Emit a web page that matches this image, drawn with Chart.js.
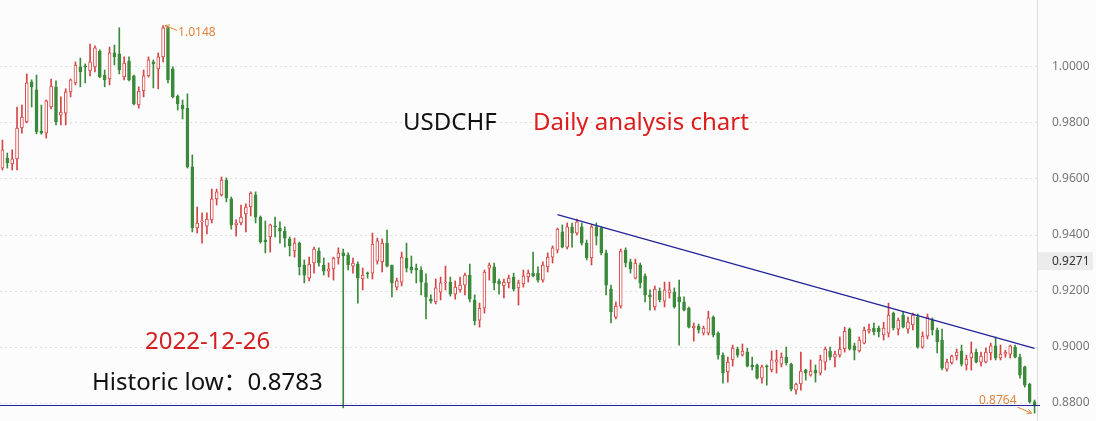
<!DOCTYPE html>
<html>
<head>
<meta charset="utf-8">
<script src="https://cdn.jsdelivr.net/npm/chart.js@4.4.1/dist/chart.umd.min.js"></script>
<style>
  html, body { margin: 0; padding: 0; background: #fcfcfc; }
  #wrap { position: relative; width: 1096px; height: 421px; overflow: hidden; }
  .note { position: absolute; font-family: 'Noto Sans', 'Noto Sans CJK SC', sans-serif; font-size: 24px; line-height: 30px; white-space: nowrap; }
</style>
</head>
<body>
<div id="wrap">
  <canvas id="fxChart" width="1096" height="421"></canvas>
  <div class="note" style="left:403px; top:106px; color:#111;">USDCHF</div>
  <div class="note" style="left:533px; top:106px; color:#dd1c1c;">Daily analysis chart</div>
  <div class="note" style="left:145px; top:325px; color:#d42020;">2022-12-26</div>
  <div class="note" style="left:92px; top:366px; color:#111;">Historic low：0.8783</div>
</div>
<script>
// daily USDCHF candles
const open = [0.9639,0.9675,0.9654,0.9672,0.9782,0.9804,0.9947,0.9918,0.9771,0.9764,
  0.9857,0.9929,0.9828,0.9835,0.9911,0.9943,1.0000,1.0004,0.9986,1.0000,
  1.0057,0.9971,0.9957,1.0050,1.0047,0.9964,1.0021,0.9968,0.9864,0.9914,
  0.9968,1.0018,0.9993,1.0036,1.0140,0.9993,0.9896,0.9864,0.9853,0.9643,
  0.9425,0.9447,0.9432,0.9454,0.9529,0.9543,0.9596,0.9529,0.9436,0.9443,
  0.9475,0.9500,0.9543,0.9464,0.9382,0.9393,0.9432,0.9425,0.9414,0.9386,
  0.9343,0.9371,0.9293,0.9246,0.9300,0.9343,0.9293,0.9271,0.9279,0.9318,
  0.9336,0.9329,0.9289,0.9296,0.9243,0.9264,0.9264,0.9307,0.9304,0.9371,
  0.9293,0.9214,0.9232,0.9318,0.9286,0.9282,0.9275,0.9229,0.9171,0.9161,
  0.9196,0.9229,0.9232,0.9189,0.9204,0.9221,0.9257,0.9168,0.9096,0.9139,
  0.9282,0.9286,0.9236,0.9218,0.9229,0.9250,0.9211,0.9225,0.9250,0.9264,
  0.9264,0.9239,0.9286,0.9321,0.9346,0.9411,0.9357,0.9429,0.9407,0.9429,
  0.9371,0.9318,0.9429,0.9425,0.9336,0.9207,0.9107,0.9146,0.9346,0.9304,
  0.9246,0.9293,0.9254,0.9186,0.9143,0.9200,0.9164,0.9193,0.9196,0.9179,
  0.9161,0.9139,0.9068,0.9075,0.9050,0.9050,0.9107,0.9050,0.8971,0.8911,
  0.8954,0.8993,0.8971,0.8982,0.8936,0.8936,0.8889,0.8932,0.8918,0.8946,
  0.8939,0.8964,0.8939,0.8846,0.8868,0.8918,0.8900,0.8918,0.8907,0.8946,
  0.8986,0.8964,0.8971,0.8993,0.9064,0.9004,0.8986,0.9014,0.9057,0.9068,
  0.9068,0.9043,0.9050,0.9121,0.9064,0.9114,0.9064,0.9079,0.9107,0.9000,
  0.9039,0.9096,0.9061,0.9025,0.8921,0.8943,0.8968,0.8986,0.8936,0.8961,
  0.8982,0.8946,0.8946,0.8979,0.9004,0.8961,0.8975,0.8975,0.9000,0.8964,
  0.8929,0.8868,0.8804];
const high = [0.9739,0.9693,0.9704,0.9857,0.9864,0.9975,0.9954,0.9971,0.9864,0.9882,
  0.9957,0.9950,0.9893,0.9922,0.9957,1.0018,1.0032,1.0011,1.0082,1.0075,
  1.0061,0.9989,1.0071,1.0078,1.0140,1.0036,1.0036,0.9971,0.9929,0.9989,
  1.0036,1.0025,1.0050,1.0148,1.0143,1.0000,0.9900,0.9882,0.9904,0.9686,
  0.9500,0.9479,0.9479,0.9564,0.9564,0.9607,0.9604,0.9536,0.9454,0.9507,
  0.9511,0.9554,0.9554,0.9468,0.9450,0.9439,0.9464,0.9447,0.9429,0.9393,
  0.9389,0.9375,0.9311,0.9321,0.9357,0.9354,0.9318,0.9300,0.9321,0.9354,
  0.9350,0.9336,0.9318,0.9304,0.9282,0.9268,0.9407,0.9389,0.9386,0.9418,
  0.9293,0.9246,0.9339,0.9371,0.9325,0.9296,0.9286,0.9261,0.9186,0.9243,
  0.9250,0.9289,0.9250,0.9236,0.9250,0.9264,0.9296,0.9186,0.9157,0.9275,
  0.9300,0.9300,0.9243,0.9243,0.9257,0.9264,0.9239,0.9275,0.9275,0.9339,
  0.9286,0.9304,0.9336,0.9361,0.9425,0.9436,0.9443,0.9443,0.9457,0.9443,
  0.9382,0.9436,0.9443,0.9429,0.9346,0.9221,0.9161,0.9350,0.9354,0.9314,
  0.9314,0.9300,0.9261,0.9204,0.9218,0.9211,0.9232,0.9232,0.9211,0.9239,
  0.9179,0.9143,0.9086,0.9082,0.9075,0.9128,0.9111,0.9054,0.8979,0.8964,
  0.9007,0.9000,0.9011,0.8996,0.8964,0.8939,0.8936,0.8936,0.8986,0.8989,
  0.8979,0.9000,0.8943,0.8871,0.8982,0.8921,0.8954,0.8936,0.8971,0.9000,
  0.9000,0.8986,0.9036,0.9071,0.9068,0.9014,0.9036,0.9071,0.9082,0.9086,
  0.9075,0.9089,0.9157,0.9125,0.9104,0.9125,0.9107,0.9121,0.9118,0.9054,
  0.9118,0.9104,0.9068,0.9064,0.8957,0.8971,0.8993,0.9007,0.8971,0.9018,
  0.8993,0.8982,0.8996,0.9014,0.9036,0.9007,0.8989,0.9007,0.9007,0.8975,
  0.8932,0.8871,0.8811];
const low = [0.9632,0.9639,0.9632,0.9632,0.9764,0.9800,0.9857,0.9761,0.9760,0.9746,
  0.9850,0.9793,0.9793,0.9793,0.9893,0.9936,0.9929,0.9943,0.9968,0.9982,
  0.9961,0.9929,0.9936,1.0007,0.9975,0.9954,0.9950,0.9864,0.9853,0.9893,
  0.9964,0.9925,0.9922,1.0018,0.9943,0.9889,0.9846,0.9814,0.9639,0.9411,
  0.9407,0.9371,0.9404,0.9443,0.9507,0.9539,0.9518,0.9421,0.9396,0.9436,
  0.9411,0.9468,0.9443,0.9371,0.9336,0.9339,0.9393,0.9371,0.9357,0.9325,
  0.9321,0.9257,0.9229,0.9236,0.9264,0.9289,0.9257,0.9250,0.9239,0.9296,
  0.8783,0.9275,0.9264,0.9157,0.9204,0.9246,0.9243,0.9296,0.9268,0.9286,
  0.9179,0.9204,0.9218,0.9268,0.9264,0.9229,0.9186,0.9100,0.9157,0.9154,
  0.9168,0.9204,0.9182,0.9171,0.9196,0.9186,0.9161,0.9079,0.9071,0.9121,
  0.9239,0.9204,0.9189,0.9175,0.9211,0.9200,0.9150,0.9214,0.9232,0.9250,
  0.9232,0.9232,0.9268,0.9300,0.9336,0.9354,0.9350,0.9357,0.9400,0.9364,
  0.9311,0.9293,0.9364,0.9329,0.9186,0.9086,0.9100,0.9139,0.9286,0.9264,
  0.9243,0.9211,0.9161,0.9132,0.9132,0.9161,0.9143,0.9175,0.9139,0.9007,
  0.9129,0.9068,0.9021,0.9050,0.9043,0.9043,0.9036,0.8957,0.8871,0.8875,
  0.8932,0.8964,0.8968,0.8929,0.8918,0.8886,0.8871,0.8864,0.8911,0.8907,
  0.8929,0.8936,0.8843,0.8832,0.8846,0.8882,0.8896,0.8875,0.8900,0.8918,
  0.8954,0.8929,0.8964,0.8982,0.8989,0.8954,0.8982,0.9011,0.9050,0.9043,
  0.9036,0.9025,0.9036,0.9061,0.9043,0.9068,0.9050,0.9061,0.8996,0.8996,
  0.9029,0.9043,0.8979,0.8918,0.8914,0.8939,0.8954,0.8932,0.8918,0.8918,
  0.8943,0.8932,0.8943,0.8954,0.8954,0.8954,0.8964,0.8961,0.8961,0.8889,
  0.8857,0.8800,0.8764];
const close = [0.9704,0.9657,0.9672,0.9782,0.9821,0.9943,0.9929,0.9768,0.9764,0.9879,
  0.9932,0.9804,0.9839,0.9911,0.9954,1.0007,0.9982,1.0000,1.0018,1.0068,
  0.9964,0.9954,1.0050,1.0036,0.9989,1.0014,0.9954,0.9868,0.9914,0.9968,
  1.0025,1.0011,1.0036,1.0140,0.9954,0.9893,0.9868,0.9850,0.9643,0.9425,
  0.9443,0.9450,0.9457,0.9529,0.9554,0.9596,0.9532,0.9436,0.9443,0.9464,
  0.9500,0.9550,0.9464,0.9375,0.9375,0.9436,0.9429,0.9414,0.9389,0.9361,
  0.9371,0.9286,0.9257,0.9296,0.9350,0.9300,0.9271,0.9279,0.9318,0.9336,
  0.9325,0.9293,0.9300,0.9246,0.9257,0.9261,0.9368,0.9379,0.9371,0.9289,
  0.9229,0.9236,0.9321,0.9282,0.9275,0.9275,0.9232,0.9179,0.9164,0.9211,
  0.9229,0.9232,0.9189,0.9214,0.9221,0.9257,0.9171,0.9093,0.9139,0.9268,
  0.9293,0.9229,0.9225,0.9232,0.9246,0.9207,0.9229,0.9254,0.9264,0.9254,
  0.9239,0.9293,0.9321,0.9354,0.9421,0.9357,0.9429,0.9407,0.9447,0.9371,
  0.9318,0.9429,0.9396,0.9336,0.9221,0.9125,0.9146,0.9343,0.9300,0.9279,
  0.9300,0.9229,0.9186,0.9179,0.9207,0.9168,0.9204,0.9204,0.9143,0.9161,
  0.9132,0.9071,0.9075,0.9061,0.9068,0.9104,0.9043,0.8971,0.8907,0.8946,
  0.8996,0.8971,0.8986,0.8932,0.8929,0.8889,0.8929,0.8929,0.8954,0.8954,
  0.8964,0.8943,0.8850,0.8868,0.8914,0.8907,0.8914,0.8907,0.8954,0.8993,
  0.8964,0.8975,0.8993,0.9057,0.8993,0.8989,0.9025,0.9061,0.9064,0.9054,
  0.9054,0.9068,0.9114,0.9068,0.9096,0.9071,0.9089,0.9114,0.9000,0.9039,
  0.9107,0.9061,0.9018,0.8925,0.8946,0.8968,0.8982,0.8939,0.8957,0.8979,
  0.8946,0.8968,0.8982,0.9004,0.8961,0.8975,0.8982,0.9004,0.8964,0.8900,
  0.8864,0.8804,0.8793];

const days = open.map((_, i) => String(i + 1)); // trading days (x axis is hidden)
const yTicks = [0.88, 0.90, 0.92, 0.94, 0.96, 0.98, 1.00];
const yMin = 0.8736, yMax = 1.0239;
const trendIdx = [114, 212];       // resistance line end points (day index)
const trendVal = [0.9473, 0.8995];
const supportLevel = 0.8792;        // horizontal line at the historic low
const lastPrice = 0.9271;

const RED = '#d64545', GREEN = '#3b8a3b', NAVY = '#22229a', ORANGE = '#e0843a';
const up = close.map((c, i) => c >= open[i]);
const candleColor = up.map(u => u ? RED : GREEN);

const trendData = days.map(() => null);
trendIdx.forEach((d, k) => { trendData[d] = trendVal[k]; });

const marks = {
    id: 'marks',
    afterDatasetsDraw(chart) {
        const { ctx, chartArea: a, scales: { x, y } } = chart;
        ctx.save();
        // support line
        const ly = Math.round(y.getPixelForValue(supportLevel)) + 0.5;
        ctx.strokeStyle = NAVY;
        ctx.lineWidth = 1;
        ctx.beginPath();
        ctx.moveTo(a.left, ly);
        ctx.lineTo(a.right + 3, ly);
        ctx.stroke();

        ctx.font = '12px "Noto Sans", sans-serif';
        ctx.fillStyle = ORANGE;
        ctx.strokeStyle = ORANGE;
        ctx.textBaseline = 'middle';

        // highest high
        const hi = high.indexOf(Math.max(...high));
        const hx = x.getPixelForValue(hi), hy = y.getPixelForValue(high[hi]);
        ctx.textAlign = 'left';
        ctx.fillText(high[hi].toFixed(4), hx + 15, hy + 7);
        arrow(ctx, hx + 14, hy + 5, hx + 2, hy);

        // lowest low
        const lo = low.indexOf(Math.min(...low));
        const lx = x.getPixelForValue(lo), lyv = y.getPixelForValue(low[lo]);
        ctx.textAlign = 'right';
        ctx.fillText(low[lo].toFixed(4), lx - 18, lyv - 13);
        arrow(ctx, lx - 17, lyv - 6, lx - 3, lyv);

        // last price tag on the axis
        const py = y.getPixelForValue(lastPrice) - 10;
        ctx.fillStyle = '#ececec';
        ctx.fillRect(a.right + 1, py - 9, chart.width - a.right - 4, 18);
        ctx.fillStyle = '#333';
        ctx.textAlign = 'left';
        ctx.fillText(lastPrice.toFixed(4), a.right + 15, py);
        ctx.restore();
    }
};

function arrow(ctx, x1, y1, x2, y2) {
    ctx.lineWidth = 1;
    ctx.beginPath();
    ctx.moveTo(x1, y1);
    ctx.lineTo(x2, y2);
    const ang = Math.atan2(y2 - y1, x2 - x1);
    ctx.moveTo(x2, y2);
    ctx.lineTo(x2 - 5 * Math.cos(ang - 0.5), y2 - 5 * Math.sin(ang - 0.5));
    ctx.moveTo(x2, y2);
    ctx.lineTo(x2 - 5 * Math.cos(ang + 0.5), y2 - 5 * Math.sin(ang + 0.5));
    ctx.stroke();
}

Chart.defaults.font.family = '"Noto Sans", sans-serif';

new Chart(document.getElementById('fxChart'), {
    type: 'bar',
    data: {
        labels: days,
        datasets: [
            {
                type: 'line',
                label: 'trend',
                data: trendData,
                borderColor: NAVY,
                borderWidth: 1.2,
                pointRadius: 0,
                spanGaps: true,
                order: 0
            },
            {
                label: 'body',
                data: open.map((o, i) => [o, close[i]]),
                backgroundColor: up.map(u => u ? '#ffffff' : GREEN),
                borderColor: candleColor,
                borderWidth: 1,
                borderSkipped: false,
                barThickness: 3,
                minBarLength: 1,
                grouped: false,
                order: 1
            },
            {
                label: 'wick',
                data: low.map((l, i) => [l, high[i]]),
                backgroundColor: candleColor,
                barThickness: 1,
                grouped: false,
                order: 2
            }
        ]
    },
    options: {
        responsive: false,
        animation: false,
        devicePixelRatio: 1,
        layout: { padding: 0 },
        plugins: {
            legend: { display: false },
            tooltip: { enabled: false }
        },
        scales: {
            x: { display: false },
            y: {
                position: 'right',
                min: yMin,
                max: yMax,
                afterBuildTicks: s => { s.ticks = yTicks.map(v => ({ value: v })); },
                afterFit: s => { s.width = 59; s.paddingTop = 0; s.paddingBottom = 0; },
                grid: { color: '#e0e0e0', drawTicks: false },
                border: { display: true, color: '#dddddd', dash: [2, 3] },
                ticks: {
                    padding: 15,
                    color: '#777',
                    font: { size: 12 },
                    callback: v => Number(v).toFixed(4)
                }
            }
        }
    },
    plugins: [marks]
});
</script>
</body>
</html>
